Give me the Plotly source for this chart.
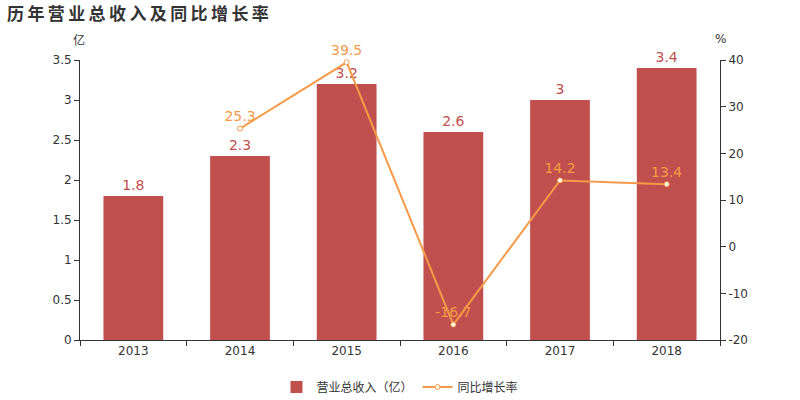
import plotly.graph_objects as go

years = ["2013", "2014", "2015", "2016", "2017", "2018"]
revenue = [1.8, 2.3, 3.2, 2.6, 3.0, 3.4]
growth_years = ["2014", "2015", "2016", "2017", "2018"]
growth = [25.3, 39.5, -16.7, 14.2, 13.4]
revenue_labels = ["1.8", "2.3", "3.2", "2.6", "3", "3.4"]
growth_labels = ["25.3", "39.5", "-16.7", "14.2", "13.4"]
left_ticks = [0, 0.5, 1, 1.5, 2, 2.5, 3, 3.5]
left_tick_text = ["0", "0.5", "1", "1.5", "2", "2.5", "3", "3.5"]
right_ticks = [-20, -10, 0, 10, 20, 30, 40]
right_tick_text = ["-20", "-10", "0", "10", "20", "30", "40"]
title = "历年营业总收入及同比增长率"

BAR = "#C0504D"
LINE = "#F59A48"
FONT = "Noto Sans CJK SC, DejaVu Sans, sans-serif"

fig = go.Figure()
fig.add_trace(go.Bar(
    x=years, y=revenue, name="营业总收入（亿）",
    marker=dict(color=BAR, line=dict(width=0)),
    width=0.56,
    text=revenue_labels, textposition="outside",
    textfont=dict(color=BAR, size=14, family="DejaVu Sans"),
    cliponaxis=False,
))
fig.add_trace(go.Scatter(
    x=growth_years, y=growth, name="同比增长率", yaxis="y2",
    mode="lines+markers+text",
    line=dict(color=LINE, width=2),
    marker=dict(symbol="circle", size=5, color="white", line=dict(color=LINE, width=1)),
    text=growth_labels, textposition="top center",
    textfont=dict(color=LINE, size=14, family="DejaVu Sans"),
    cliponaxis=False,
))

axis_font = dict(family="DejaVu Sans", size=12, color="#333")
fig.update_layout(
    width=800, height=400,
    margin=dict(l=80, r=80, t=60, b=60, autoexpand=False),
    plot_bgcolor="white", paper_bgcolor="white",
    font=dict(family=FONT, color="#333", size=12),
    showlegend=True,
    legend=dict(orientation="h", x=0.5, xanchor="center", xref="container",
                y=1 - 387 / 400, yanchor="middle", yref="container",
                font=dict(size=12, color="#333", family=FONT)),
    xaxis=dict(type="category", showline=True, linecolor="#333", linewidth=1,
               ticks="outside", tickson="boundaries", ticklen=5, tickcolor="#333",
               tickfont=axis_font, showgrid=False, zeroline=False),
    yaxis=dict(range=[0, 3.5], tickvals=left_ticks, ticktext=left_tick_text,
               showline=True, linecolor="#333", linewidth=1,
               ticks="outside", ticklen=5, tickcolor="#333",
               tickfont=axis_font, showgrid=False, zeroline=False),
    yaxis2=dict(range=[-20, 40], tickvals=right_ticks, ticktext=right_tick_text,
                overlaying="y", side="right",
                showline=True, linecolor="#333", linewidth=1,
                ticks="outside", ticklen=5, tickcolor="#333",
                tickfont=axis_font, showgrid=False, zeroline=False),
    annotations=[
        dict(text="<b>" + "\u2009".join(title) + "</b>", x=5, y=13, xref="paper", yref="paper",
             xanchor="left", yanchor="middle", showarrow=False,
             font=dict(size=17, color="#333", family=FONT)),
        dict(text="亿", x=79, y=39, xref="paper", yref="paper",
             xanchor="center", yanchor="middle", showarrow=False,
             font=dict(size=12, color="#333", family=FONT)),
        dict(text="%", x=720, y=39, xref="paper", yref="paper",
             xanchor="center", yanchor="middle", showarrow=False,
             font=dict(size=12, color="#333", family="DejaVu Sans")),
    ],
)

# convert pixel coordinates to paper coordinates for annotations
pw, ph = 800 - 160, 400 - 120
for a in fig.layout.annotations:
    px, py = a.x, a.y
    a.x = (px - 80) / pw
    a.y = 1 - (py - 60) / ph

fig.write_html("out.html")
